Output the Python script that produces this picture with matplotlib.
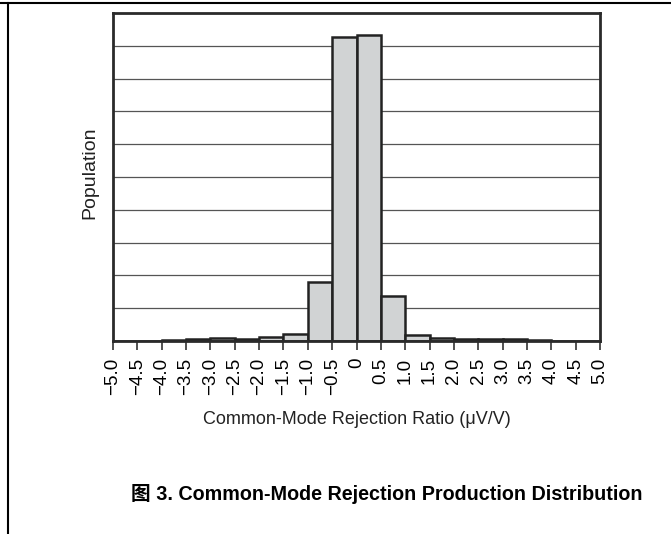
import numpy as np
import matplotlib.pyplot as plt
from matplotlib.lines import Line2D

plt.rcParams['font.family'] = ['Liberation Sans', 'Noto Sans CJK SC', 'DejaVu Sans']

# bin edges (uV/V) and bar heights (in grid divisions, full scale = 10)
bin_left = [-5.0, -4.5, -4.0, -3.5, -3.0, -2.5, -2.0, -1.5, -1.0, -0.5,
            0.0, 0.5, 1.0, 1.5, 2.0, 2.5, 3.0, 3.5, 4.0, 4.5]
population = [0, 0, 0.04, 0.05, 0.08, 0.06, 0.11, 0.2, 1.81, 9.26,
              9.34, 1.38, 0.17, 0.08, 0.06, 0.05, 0.05, 0.04, 0, 0]
tick_pos = np.arange(-5.0, 5.01, 0.5)
tick_labels = ['\u22125.0', '\u22124.5', '\u22124.0', '\u22123.5', '\u22123.0',
               '\u22122.5', '\u22122.0', '\u22121.5', '\u22121.0', '\u22120.5',
               '0', '0.5', '1.0', '1.5', '2.0', '2.5', '3.0', '3.5', '4.0',
               '4.5', '5.0']

fig = plt.figure(figsize=(6.71, 5.34), dpi=100)
ax = fig.add_axes([113 / 671, 1 - 341 / 534, 487 / 671, 328 / 534])

# horizontal grid lines behind the bars
for g in range(1, 10):
    ax.axhline(g, color='#555555', lw=0.9, zorder=1)

ax.bar(bin_left, population, width=0.5, align='edge', color='#d1d3d4',
       edgecolor='#222222', linewidth=1.8, zorder=2)

ax.set_xlim(-5, 5)
ax.set_ylim(0, 10)
ax.set_yticks([])
ax.set_xticks(tick_pos)
ax.set_xticklabels(tick_labels, rotation=90, fontsize=13.5)
ax.tick_params(axis='x', direction='out', length=6.5, width=1.2,
               color='#333333', pad=5.5)
for s in ax.spines.values():
    s.set_linewidth(2.0)
    s.set_color('#2a2a2a')
    s.set_zorder(3)

ax.set_xlabel('Common-Mode Rejection Ratio (\u03bcV/V)', fontsize=13,
              color='#222222')
ax.xaxis.set_label_coords(0.5, -0.213)
ax.set_ylabel('Population', fontsize=14, color='#222222')
ax.yaxis.set_label_coords(-0.03, 0.512)

fig.text(0.576, 0.075, '\u56fe 3. Common-Mode Rejection Production Distribution',
         ha='center', va='center', fontsize=14.2, fontweight='bold')

# page frame lines
fig.add_artist(Line2D([0, 1], [1 - 2.7 / 534] * 2, color='black', lw=1.5))
fig.add_artist(Line2D([8 / 671] * 2, [0, 1 - 2.7 / 534], color='black', lw=1.5))

fig.savefig('out.png', dpi=100)
